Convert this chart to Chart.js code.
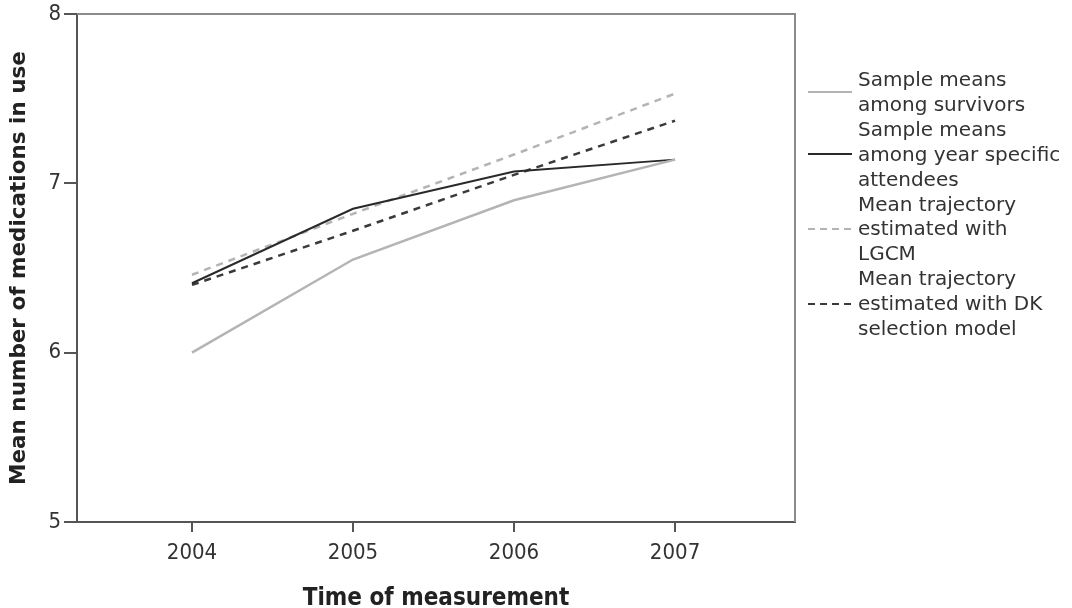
<!DOCTYPE html>
<html>
<head>
<meta charset="utf-8">
<script src="https://cdn.jsdelivr.net/npm/chart.js@4"></script>
<style>
  html, body { margin: 0; padding: 0; background: #fff; }
  #wrap { position: relative; width: 1072px; height: 608px; }
  #legend { position: absolute; left: 808px; top: 67px; font-family: "DejaVu Sans", sans-serif; font-size: 20px; line-height: 24.9px; color: #333; }
  .item { position: relative; padding-left: 50px; }
  .item svg { position: absolute; left: 0; top: 50%; margin-top: -2px; }
</style>
</head>
<body>
<div id="wrap">
  <canvas id="chart" width="1072" height="608"></canvas>
  <div id="legend"></div>
</div>
<script>
// --- data ---
const years = [2004, 2005, 2006, 2007];
const survivors = [6.00, 6.55, 6.90, 7.14];
const attendees = [6.41, 6.85, 7.07, 7.14];
const lgcm = [6.46, 6.82, 7.17, 7.53];
const dkModel = [6.40, 6.72, 7.05, 7.37];
const yTicks = [5, 6, 7, 8];

const seriesNames = [
  ['Sample means', 'among survivors'],
  ['Sample means', 'among year specific', 'attendees'],
  ['Mean trajectory', 'estimated with', 'LGCM'],
  ['Mean trajectory', 'estimated with DK', 'selection model']
];
const seriesStyle = [
  { color: '#b4b4b4', dash: [] },
  { color: '#2a2a2a', dash: [] },
  { color: '#b4b4b4', dash: [7, 6] },
  { color: '#3a3a3a', dash: [7, 6] }
];

const toPoints = (vals) => vals.map((v, i) => ({ x: years[i], y: v }));
const allValues = [survivors, attendees, lgcm, dkModel];

const tickFont = { family: '"DejaVu Sans Condensed", "Liberation Sans Narrow", sans-serif', size: 22, lineHeight: 1 };

// caja alrededor del área del gráfico (arriba y derecha en gris)
const framePlugin = {
  id: 'frame',
  afterDraw(chart) {
    const { ctx, chartArea: a } = chart;
    ctx.save();
    ctx.strokeStyle = '#8a8a8a';
    ctx.lineWidth = 2;
    ctx.beginPath();
    ctx.moveTo(a.left, a.top);
    ctx.lineTo(a.right, a.top);
    ctx.lineTo(a.right, a.bottom);
    ctx.stroke();
    ctx.restore();
  }
};

new Chart(document.getElementById('chart'), {
  type: 'line',
  data: {
    datasets: allValues.map((vals, i) => ({
      label: seriesNames[i].join(' '),
      data: toPoints(vals),
      borderColor: seriesStyle[i].color,
      borderDash: seriesStyle[i].dash,
      borderWidth: i === 1 ? 2 : 2.5,
      pointRadius: 0,
      tension: 0,
      fill: false
    }))
  },
  options: {
    responsive: false,
    animation: false,
    layout: { padding: { top: 14, right: 277, left: 0, bottom: 0 } },
    plugins: { legend: { display: false }, tooltip: { enabled: false } },
    scales: {
      x: {
        type: 'linear',
        min: 2003.286,
        max: 2007.745,
        afterBuildTicks: (s) => { s.ticks = years.map(v => ({ value: v })); },
        afterFit: (s) => { s.height = 86; },
        border: { display: true, color: '#555', width: 2 },
        grid: { drawOnChartArea: false, drawTicks: true, tickLength: 10, color: '#555', lineWidth: 2 },
        ticks: {
          color: '#333', padding: 10,
          font: tickFont,
          callback: (v) => String(v)
        },
        title: {
          display: true, text: 'Time of measurement', color: '#222',
          padding: { top: 10, bottom: -3 },
          font: { family: '"DejaVu Sans Condensed", "DejaVu Sans", sans-serif', size: 24, weight: 'bold', lineHeight: 1 }
        }
      },
      y: {
        min: 5, max: 8,
        afterBuildTicks: (s) => { s.ticks = yTicks.map(v => ({ value: v })); },
        afterFit: (s) => { s.width = 77; },
        border: { display: true, color: '#555', width: 2 },
        grid: { drawOnChartArea: false, drawTicks: true, tickLength: 13, color: '#555', lineWidth: 2 },
        ticks: {
          color: '#333', padding: 3,
          font: tickFont
        },
        title: {
          display: true, text: 'Mean number of medications in use', color: '#222',
          padding: { top: 7, bottom: 0 },
          font: { family: '"DejaVu Sans", sans-serif', size: 21.5, weight: 'bold' }
        }
      }
    }
  },
  plugins: [framePlugin]
});

// leyenda en HTML (etiquetas de varias líneas)
const legendEl = document.getElementById('legend');
seriesNames.forEach((lines, i) => {
  const st = seriesStyle[i];
  const item = document.createElement('div');
  item.className = 'item';
  item.innerHTML =
    '<svg width="44" height="4"><line x1="0" y1="2" x2="44" y2="2" stroke="' + st.color +
    '" stroke-width="2" stroke-dasharray="' + (st.dash.length ? '7,5' : 'none') + '"/></svg>' +
    lines.join('<br>');
  legendEl.appendChild(item);
});
</script>
</body>
</html>
